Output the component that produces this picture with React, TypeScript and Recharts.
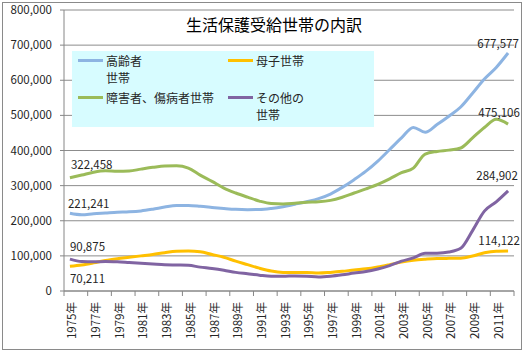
import React from "react";
import { LineChart, Line, XAxis, YAxis, CartesianGrid, LabelList, Legend, Customized } from "recharts";

const years = [
  "1975年","1976年","1977年","1978年","1979年","1980年","1981年","1982年","1983年","1984年",
  "1985年","1986年","1987年","1988年","1989年","1990年","1991年","1992年","1993年","1994年",
  "1995年","1996年","1997年","1998年","1999年","2000年","2001年","2002年","2003年","2004年",
  "2005年","2006年","2007年","2008年","2009年","2010年","2011年","2012年",
];

const elderly = [
  221241, 217000, 220000, 222000, 224000, 225341, 228000, 233000, 239000, 243500,
  243259, 241000, 238000, 235000, 232500, 231609, 232000, 235000, 240000, 247000,
  254292, 263000, 276000, 295000, 317000, 341196, 370049, 402835, 435804, 465680,
  451962, 473838, 497665, 523840, 563061, 603540, 636469, 677577,
];
const mother = [
  70211, 74000, 80000, 87000, 92000, 96000, 100000, 104000, 109000, 113000,
  114000, 112000, 104000, 96000, 85000, 75000, 65000, 57000, 53000, 52500,
  52373, 51000, 53000, 56000, 60000, 63126, 68460, 75097, 82216, 87478,
  90531, 92609, 92910, 93408, 99592, 108794, 113323, 114122,
];
const disabled = [
  322458, 330000, 338000, 342000, 341000, 341732, 347000, 352000, 356000, 356500,
  350000, 330000, 312000, 293000, 279000, 267091, 256000, 249000, 248000, 250000,
  252688, 254000, 258000, 267000, 279000, 290620, 303554, 319302, 336772, 349844,
  389818, 397357, 401088, 407095, 435956, 465540, 488864, 475106,
];
const other = [
  90875, 84000, 83000, 84000, 83000, 81000, 79000, 77000, 75000, 74000,
  73000, 68000, 64000, 59000, 53000, 49000, 45000, 42000, 42000, 43000,
  42037, 40000, 42000, 46000, 51000, 55240, 62680, 72403, 84941, 94148,
  107259, 107604, 110917, 121570, 171978, 227407, 253740, 284902,
];

const yTicks = [0, 100000, 200000, 300000, 400000, 500000, 600000, 700000, 800000];

const seriesNames = {
  elderly: "高齢者\n世帯",
  mother: "母子世帯",
  disabled: "障害者、傷病者世帯",
  other: "その他の\n世帯",
};
const colors = {
  elderly: "#8DB4E2",
  mother: "#FFC000",
  disabled: "#9BBB59",
  other: "#8064A2",
};

const data = years.map((y, i) => ({
  year: y,
  elderly: elderly[i],
  mother: mother[i],
  disabled: disabled[i],
  other: other[i],
}));

const FONT = "'Noto Sans CJK JP', 'Noto Sans', sans-serif";
const LAST = years.length - 1;
const BW = 450 / years.length;

const fmt = (v: number) => v.toLocaleString("en-US");

const labelCfg: Record<string, { first: [number, number, string]; last: [number, number, string] }> = {
  elderly: { first: [-2, -10, "start"], last: [-10, -10, "middle"] },
  disabled: { first: [1, -14, "start"], last: [-9, -12, "middle"] },
  other: { first: [0, -13, "start"], last: [-11, -16, "middle"] },
  mother: { first: [0, 12, "start"], last: [-9, -11, "middle"] },
};

const makeLabel = (key: string) => (props: any) => {
  const { x, y, value, index } = props;
  if (index !== 0 && index !== LAST) return null;
  const c = index === 0 ? labelCfg[key].first : labelCfg[key].last;
  return (
    <text
      x={x + c[0]}
      y={y + c[1]}
      textAnchor={c[2] as any}
      dominantBaseline="central"
      fontSize={11.5}
      fontFamily={FONT}
      fill="#262626"
    >
      {fmt(value)}
    </text>
  );
};

const XTick = (props: any) => {
  const { x, y, payload } = props;
  const marks = [x - BW / 2];
  if (payload && payload.index === LAST - 1) marks.push(x + 1.5 * BW);
  return (
    <g>
      {marks.map((mx, i) => (
        <line key={i} x1={mx} x2={mx} y1={y - 5} y2={y} stroke="#868686" />
      ))}
      <text
        transform={`translate(${x + 1.5},${y + 6}) rotate(-90)`}
        textAnchor="end"
        dominantBaseline="central"
        fontSize={11.5}
        fontFamily={FONT}
        fill="#262626"
      >
        {payload.value}
      </text>
    </g>
  );
};

const legendOrder = ["elderly", "mother", "disabled", "other"];
const legendPos: Record<string, [number, number]> = {
  elderly: [0, 0],
  mother: [150, 0],
  disabled: [0, 37],
  other: [150, 37],
};

const LegendBox = () => (
  <div
    style={{
      position: "relative",
      width: 302,
      height: 76,
      background: "#D7FCFF",
      fontFamily: FONT,
      fontSize: 12,
      color: "#262626",
    }}
  >
    {legendOrder.map((k) => {
      const [lx, ly] = legendPos[k];
      return (
        <div key={k} style={{ position: "absolute", left: lx, top: ly }}>
          <div
            style={{
              position: "absolute",
              left: 6,
              top: 7.5,
              width: 25,
              height: 3,
              background: (colors as any)[k],
            }}
          />
          <div
            style={{
              position: "absolute",
              left: 34,
              top: 0.5,
              whiteSpace: "pre",
              lineHeight: "17px",
            }}
          >
            {(seriesNames as any)[k]}
          </div>
        </div>
      );
    })}
  </div>
);

const Title = () => (
  <text x={274} y={24} textAnchor="middle" dominantBaseline="central" fontSize={16} fontFamily={FONT} fill="#000">
    生活保護受給世帯の内訳
  </text>
);

export default function App() {
  return (
    <div style={{ position: "absolute", left: 0, top: 0, width: 528, height: 353, background: "#fff" }}>
      <div
        style={{
          position: "absolute",
          left: 2,
          top: 2,
          width: 520,
          height: 348,
          border: "1px solid #8a8a8a",
          boxSizing: "border-box",
        }}
      />
      <div style={{ position: "absolute", left: 0, top: 0 }}>
        <LineChart width={528} height={353} data={data} margin={{ top: 10, right: 14, bottom: 0, left: 0 }}>
          <CartesianGrid vertical={false} stroke="#8c8c8c" strokeWidth={1} />
          <XAxis
            dataKey="year"
            scale="band"
            interval={1}
            height={62}
            tickSize={5}
            tickMargin={0}
            tickLine={false}
            axisLine={{ stroke: "#868686" }}
            tick={<XTick />}
          />
          <YAxis
            width={64}
            domain={[0, 800000]}
            ticks={yTicks}
            interval={0}
            tickFormatter={fmt}
            tickSize={4}
            tickMargin={8}
            axisLine={{ stroke: "#868686" }}
            tickLine={{ stroke: "#868686" }}
            tick={{ fontSize: 11.5, fontFamily: FONT, fill: "#262626" }}
          />
          <Legend
            layout="horizontal"
            verticalAlign="middle"
            align="center"
            wrapperStyle={{ left: 72, top: 51, width: 302, height: 76 }}
            content={() => <LegendBox />}
          />
          <Customized component={Title} />
          {(["elderly", "mother", "disabled", "other"] as const).map((k) => (
            <Line
              key={k}
              type="monotone"
              dataKey={k}
              name={(seriesNames as any)[k]}
              stroke={(colors as any)[k]}
              strokeWidth={3}
              dot={false}
              activeDot={false}
              isAnimationActive={false}
            >
              <LabelList dataKey={k} content={makeLabel(k)} />
            </Line>
          ))}
        </LineChart>
      </div>
    </div>
  );
}
